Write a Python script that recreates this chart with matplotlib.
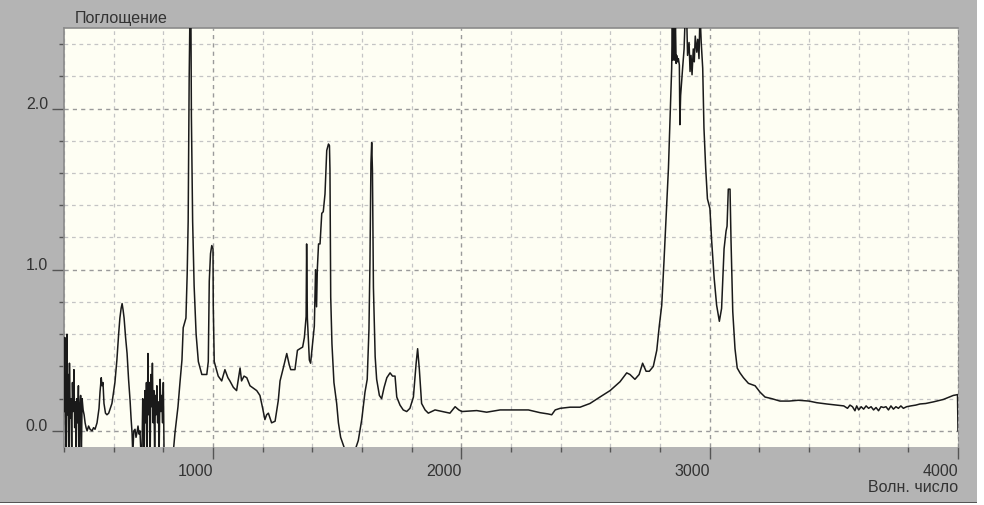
import matplotlib
matplotlib.use("Agg")
from matplotlib import pyplot as plt
from matplotlib.patches import Rectangle
from matplotlib.ticker import MultipleLocator, FixedLocator
import numpy as np

# spectrum: wavenumber (cm-1) and absorbance
wavenumber = [
    400, 403, 406, 409, 412, 414, 417, 419, 422, 425, 428, 431, 434, 437, 440, 443,
    446, 449, 452, 455, 458, 461, 464, 467, 470, 473, 477, 481, 485, 489, 493, 499,
    505, 513, 519, 525, 533, 541, 545, 550, 553, 557, 561, 567, 573, 580, 593, 605,
    613, 620, 625, 630, 634, 638, 642, 648, 654, 660, 666, 670, 674, 677, 681, 686,
    690, 694, 698, 702, 706, 710, 714, 717, 720, 723, 726, 729, 732, 735, 738, 741,
    744, 747, 750, 753, 756, 759, 762, 765, 768, 771, 774, 777, 780, 783, 787, 790,
    793, 797, 800, 803, 807, 839, 847, 855, 859, 867, 875, 880, 891, 896, 900, 904,
    908, 911, 913, 915, 918, 924, 932, 941, 955, 975, 981, 985, 990, 995, 1000, 1001,
    1005, 1021, 1035, 1048, 1060, 1068, 1082, 1095, 1109, 1115, 1125, 1136, 1149, 1176, 1189, 1200,
    1209, 1216, 1223, 1236, 1250, 1263, 1270, 1283, 1297, 1307, 1313, 1330, 1340, 1350, 1361, 1368,
    1375, 1377, 1380, 1388, 1393, 1401, 1408, 1413, 1417, 1420, 1425, 1431, 1438, 1444, 1451, 1458,
    1465, 1469, 1471, 1474, 1479, 1487, 1498, 1505, 1514, 1532, 1572, 1585, 1599, 1612, 1621, 1628,
    1632, 1636, 1639, 1642, 1646, 1653, 1659, 1670, 1679, 1689, 1700, 1713, 1723, 1733, 1740, 1753,
    1766, 1780, 1793, 1807, 1818, 1824, 1831, 1840, 1854, 1867, 1894, 1925, 1954, 1975, 1990, 2002,
    2062, 2102, 2156, 2270, 2317, 2350, 2364, 2378, 2398, 2438, 2478, 2518, 2558, 2599, 2639, 2666,
    2679, 2699, 2716, 2730, 2744, 2757, 2773, 2787, 2797, 2807, 2816, 2827, 2834, 2840, 2847, 2850,
    2852, 2854, 2856, 2858, 2860, 2862, 2865, 2867, 2871, 2874, 2878, 2880, 2883, 2887, 2891, 2897,
    2902, 2907, 2911, 2917, 2921, 2925, 2929, 2934, 2938, 2942, 2948, 2952, 2957, 2961, 2966, 2972,
    2977, 2984, 2991, 3001, 3008, 3018, 3028, 3039, 3048, 3058, 3066, 3070, 3075, 3082, 3086, 3093,
    3102, 3111, 3122, 3136, 3156, 3183, 3203, 3223, 3250, 3283, 3320, 3357, 3400, 3431, 3471, 3512,
    3540, 3555, 3565, 3575, 3585, 3592, 3600, 3610, 3620, 3630, 3640, 3650, 3660, 3670, 3680, 3690,
    3700, 3710, 3720, 3730, 3740, 3750, 3760, 3770, 3780, 3793, 3810, 3830, 3847, 3870, 3901, 3941,
    3981, 3998, 4000,
]
absorbance = [
    0.12, 0.58, 0.05, -0.15, 0.60, 0.10, 0.35, -0.15, 0.42, 0.08, 0.20, -0.15, 0.30, 0.12, 0.38, 0.02,
    0.18, -0.15, 0.20, 0.05, 0.28, -0.15, 0.15, 0.22, -0.15, 0.20, 0.13, 0.10, 0.05, 0.02, 0.00, 0.03,
    0.01, 0.00, 0.02, 0.01, 0.05, 0.14, 0.24, 0.33, 0.28, 0.30, 0.17, 0.11, 0.10, 0.11, 0.17, 0.30,
    0.44, 0.60, 0.70, 0.76, 0.79, 0.75, 0.70, 0.58, 0.48, 0.32, 0.19, 0.08, -0.01, -0.15, 0.00, 0.01,
    -0.04, -0.01, 0.03, -0.02, 0.00, -0.15, -0.15, 0.20, 0.10, -0.15, 0.25, 0.05, 0.30, -0.12, 0.48, 0.10,
    0.30, -0.15, 0.35, 0.15, 0.42, 0.05, 0.25, -0.15, 0.22, 0.10, 0.28, 0.05, 0.18, -0.15, 0.32, 0.12,
    0.22, 0.05, 0.30, -0.15, -0.15, -0.15, -0.01, 0.10, 0.15, 0.30, 0.44, 0.64, 0.70, 0.97, 1.30, 2.18,
    2.70, 2.60, 1.95, 1.67, 1.30, 0.90, 0.60, 0.43, 0.35, 0.35, 0.43, 0.93, 1.10, 1.15, 1.13, 0.78,
    0.43, 0.34, 0.31, 0.38, 0.33, 0.31, 0.27, 0.25, 0.39, 0.31, 0.34, 0.33, 0.28, 0.25, 0.22, 0.14,
    0.07, 0.10, 0.11, 0.05, 0.06, 0.19, 0.31, 0.39, 0.48, 0.41, 0.38, 0.38, 0.50, 0.51, 0.52, 0.58,
    0.71, 1.16, 0.70, 0.44, 0.42, 0.54, 0.65, 1.00, 0.77, 1.00, 1.16, 1.16, 1.35, 1.36, 1.47, 1.74,
    1.78, 1.77, 1.62, 0.83, 0.54, 0.30, 0.17, 0.05, -0.04, -0.12, -0.12, -0.06, 0.07, 0.24, 0.32, 0.63,
    1.04, 1.66, 1.79, 1.62, 0.89, 0.46, 0.32, 0.22, 0.20, 0.27, 0.33, 0.36, 0.34, 0.34, 0.21, 0.16,
    0.13, 0.12, 0.14, 0.21, 0.42, 0.51, 0.38, 0.17, 0.13, 0.11, 0.13, 0.12, 0.11, 0.15, 0.13, 0.12,
    0.126, 0.116, 0.13, 0.13, 0.113, 0.105, 0.10, 0.13, 0.14, 0.147, 0.147, 0.17, 0.21, 0.25, 0.305, 0.36,
    0.35, 0.32, 0.35, 0.42, 0.37, 0.37, 0.40, 0.50, 0.65, 0.78, 1.05, 1.40, 1.63, 1.92, 2.25, 2.60,
    2.30, 2.60, 2.35, 2.60, 2.30, 2.55, 2.28, 2.33, 2.29, 2.31, 2.27, 1.90, 2.08, 2.17, 2.25, 2.37,
    2.60, 2.60, 2.33, 2.41, 2.23, 2.33, 2.21, 2.37, 2.29, 2.45, 2.35, 2.43, 2.31, 2.60, 2.41, 2.25,
    1.88, 1.63, 1.44, 1.38, 1.18, 0.95, 0.78, 0.68, 0.76, 1.13, 1.24, 1.27, 1.50, 1.50, 1.18, 0.74,
    0.51, 0.39, 0.36, 0.33, 0.295, 0.28, 0.24, 0.21, 0.20, 0.185, 0.185, 0.19, 0.185, 0.175, 0.167, 0.16,
    0.155, 0.14, 0.16, 0.15, 0.125, 0.155, 0.13, 0.15, 0.135, 0.155, 0.14, 0.15, 0.13, 0.145, 0.125, 0.15,
    0.145, 0.15, 0.13, 0.155, 0.135, 0.15, 0.14, 0.155, 0.14, 0.15, 0.155, 0.16, 0.167, 0.17, 0.18, 0.195,
    0.22, 0.225, 0.0,
]

x_major = [1000, 2000, 3000, 4000]
y_major = [0.0, 1.0, 2.0]

plt.rcParams['font.family'] = ['Liberation Sans', 'DejaVu Sans']
FS = 11.5
TXT = '#333333'

fig = plt.figure(figsize=(9.84, 5.05), dpi=100, facecolor='#b4b4b4')
# white margin on the right and a dark rule at the bottom, as in the screenshot
fig.patches.append(Rectangle((977 / 984, 0), 7 / 984, 1, transform=fig.transFigure,
                             facecolor='white', edgecolor='none', zorder=0))
fig.patches.append(Rectangle((0, 0), 1, 2 / 505, transform=fig.transFigure,
                             facecolor='white', edgecolor='none', zorder=0))
fig.patches.append(Rectangle((0, 2 / 505), 977 / 984, 1.5 / 505, transform=fig.transFigure,
                             facecolor='#555555', edgecolor='none', zorder=0))

ax = fig.add_axes([64 / 984, 58 / 505, 894 / 984, 419 / 505])
ax.set_facecolor('#fefef3')

ax.plot(wavenumber, absorbance, color='#1a1a1a', lw=1.1, zorder=3)

ax.set_xlim(400, 4000)
ax.set_ylim(-0.1, 2.5)

ax.xaxis.set_major_locator(FixedLocator(x_major))
ax.xaxis.set_minor_locator(MultipleLocator(200))
ax.yaxis.set_major_locator(FixedLocator(y_major))
ax.yaxis.set_minor_locator(MultipleLocator(0.2))
ax.set_xticklabels([str(v) for v in x_major], ha='right')
ax.set_yticklabels(['%.1f' % v for v in y_major], va='baseline')

ax.tick_params(which='major', direction='out', length=8.5, width=1, color='#555555',
               labelsize=FS, labelcolor=TXT)
ax.tick_params(which='minor', direction='out', length=3.8, width=1, color='#555555')
ax.tick_params(axis='x', which='major', pad=4)
ax.tick_params(axis='y', which='major', pad=3)

ax.grid(True, which='minor', color='#c4c4c4', lw=0.9, ls=(0, (3, 3)))
ax.grid(True, which='major', color='#9a9a9a', lw=1.0, ls=(0, (3, 3)))
ax.set_axisbelow(True)

for side in ['left', 'top']:
    ax.spines[side].set_color('#8a8a8a')
    ax.spines[side].set_linewidth(1.2)
ax.spines['right'].set_color('#8a8a8a')
ax.spines['right'].set_linestyle((0, (3, 3)))
ax.spines['bottom'].set_visible(False)

fig.text(75 / 984, 1 - 18 / 505, 'Поглощение', fontsize=FS, color=TXT,
         ha='left', va='center')
fig.text(958 / 984, 1 - 487 / 505, 'Волн. число', fontsize=FS, color=TXT,
         ha='right', va='center')

fig.savefig('out.png', dpi=100, facecolor=fig.get_facecolor())
